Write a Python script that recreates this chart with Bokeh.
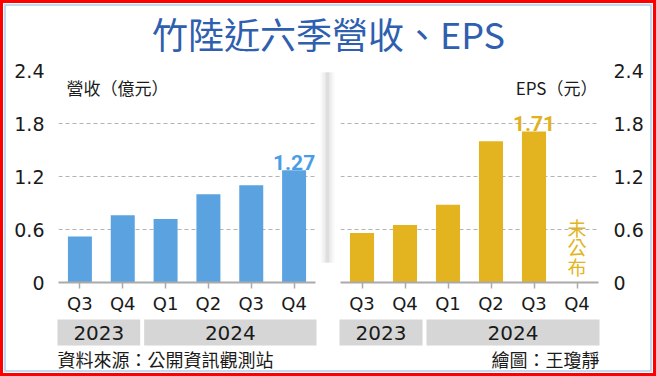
from bokeh.plotting import figure
from bokeh.layouts import column, row
from bokeh.models import Range1d, FixedTicker, CustomJSTickFormatter, Label
from bokeh.embed import file_html
from bokeh.resources import INLINE
from bokeh.core.properties import value

# ---------------- data ----------------
quarters = ["Q3", "Q4", "Q1", "Q2", "Q3", "Q4"]
years = ["2023", "2023", "2024", "2024", "2024", "2024"]
year_labels = ["2023", "2024"]
year_spans = [2, 4]                                # quarters in each year group
revenue = [0.52, 0.76, 0.72, 1.00, 1.10, 1.27]    # 營收(億元)
eps = [0.56, 0.65, 0.88, 1.60, 1.71]               # EPS(元); 2024 Q4 未公布
y_ticks = [0, 0.6, 1.2, 1.8, 2.4]

title_text = "竹陸近六季營收、EPS"
rev_unit = "營收（億元）"
eps_unit = "EPS（元）"
not_pub = "未公布"
source_text = "資料來源：公開資訊觀測站"
credit_text = "繪圖：王瓊靜"

# ---------------- style / layout (page px) ----------------
W, H = 656, 376
TOP_H = 58            # title band 0..58
MID_B = 316           # chart band 58..316, footer band 316..376
FT, FB = 70, 283      # frame top / bottom of both charts
L_X1 = 316            # left chart figure 0..316
L_F0, L_F1 = 58, 315  # left frame
M_X1 = 338            # gap strip 316..338
R_F0, R_F1 = 340, 598  # right frame (figure 338..656)

BLUE, BLUE_T = "#5ba3e0", "#4a9de4"
GOLD, GOLD_T = "#e3b420", "#e2b01a"
TITLE_C = "#2f5fae"
TXT = "#1a1a1a"
CJK = "Noto Sans CJK TC"
NUM = "DejaVu Sans"

xs = list(range(len(quarters)))           # category positions


def deco(x0, x1, y0, y1):
    """A plain transparent figure whose data coordinates are the page pixels it covers."""
    f = figure(width=x1 - x0, height=y1 - y0, x_range=Range1d(x0, x1),
               y_range=Range1d(y1, y0), x_axis_type=None, y_axis_type=None,
               toolbar_location=None, output_backend="svg", min_border=0)
    f.outline_line_color = None
    f.background_fill_color = None
    f.border_fill_color = None
    return f


def chart(x0, x1, f0, f1, vals, color, lab_color, unit, side):
    p = figure(width=x1 - x0, height=MID_B - TOP_H,
               x_range=Range1d(-0.5, len(quarters) - 0.5),
               y_range=Range1d(0, 2.4), y_axis_location=side,
               toolbar_location=None, output_backend="svg",
               min_border_left=f0 - x0, min_border_right=x1 - f1,
               min_border_top=FT - TOP_H, min_border_bottom=MID_B - FB)
    p.outline_line_color = None
    p.background_fill_color = None
    p.border_fill_color = None
    p.xgrid.visible = False
    p.ygrid.grid_line_color = "#b3b3b3"
    p.ygrid.grid_line_dash = "4 3"
    p.ygrid.grid_line_width = 1

    ya = p.yaxis[0]
    ya.ticker = FixedTicker(ticks=y_ticks)
    ya.formatter = CustomJSTickFormatter(code="return tick == 0 ? '0' : tick.toFixed(1);")
    ya.axis_line_color = None
    ya.major_tick_line_color = None
    ya.minor_tick_line_color = None
    ya.major_label_text_font = NUM
    ya.major_label_text_font_size = "19px"
    ya.major_label_text_color = TXT
    ya.major_label_standoff = 8 if side == "left" else 9

    xa = p.xaxis[0]
    xa.ticker = FixedTicker(ticks=xs)
    xa.major_label_overrides = {i: q for i, q in zip(xs, quarters)}
    xa.axis_line_color = "#aaaaaa"
    xa.axis_line_width = 2
    xa.major_tick_in = 0
    xa.major_tick_out = 6
    xa.minor_tick_line_color = None
    xa.major_tick_line_color = "#aaaaaa"
    xa.major_tick_line_width = 1.5
    xa.major_label_text_font = NUM
    xa.major_label_text_font_size = "18px"
    xa.major_label_text_color = TXT
    xa.major_label_standoff = 4

    n = len(vals)
    p.vbar(x=xs[:n], top=vals, width=0.56, fill_color=color, line_color=None)
    p.text(x=[xs[n - 1]], y=[vals[-1]], text=[f"{vals[-1]:.2f}"], y_offset=-8,
           text_font=value("Roboto"), text_font_style="bold", text_font_size="21px",
           text_color=lab_color, text_align="center", text_baseline="alphabetic")

    if side == "left":
        p.add_layout(Label(x=66 - f0, y=FB - 88, x_units="screen", y_units="screen",
                           text=unit, text_font=CJK, text_font_size="17px",
                           text_color=TXT, text_align="left", text_baseline="middle"))
    else:
        p.add_layout(Label(x=597 - f0, y=FB - 88, x_units="screen", y_units="screen",
                           text=unit, text_font=CJK, text_font_size="17px",
                           text_color=TXT, text_align="right", text_baseline="middle"))
    return p


# ---------------- title band ----------------
top = deco(0, W, 0, TOP_H)
top.add_layout(Label(x=328, y=32, text=title_text, text_font=CJK, text_font_size="36px",
                     text_color=TITLE_C, text_align="center", text_baseline="middle"))

# ---------------- chart band ----------------
left = chart(0, L_X1, L_F0, L_F1, revenue, BLUE, BLUE_T, rev_unit, "left")
right = chart(M_X1, W, R_F0, R_F1, eps, GOLD, GOLD_T, eps_unit, "right")
right.text(x=[xs[-1]] * 3, y=[0, 0, 0], text=list(not_pub), y_offset=[-55, -36, -16],
           text_font=value(CJK), text_font_size="19px", text_color=GOLD,
           text_align="center", text_baseline="middle")

gap = deco(L_X1, M_X1, TOP_H, MID_B)
for w, a in [(14, 0.025), (10, 0.03), (6, 0.035), (3, 0.04)]:
    gap.quad(left=[327 - w / 2], right=[327 + w / 2], top=[60], bottom=[292],
             fill_color="black", fill_alpha=a, line_color=None)

# ---------------- footer band ----------------
bot = deco(0, W, MID_B, H)
for f0, f1 in [(L_F0, L_F1), (R_F0, R_F1)]:
    slot = (f1 - f0) / len(quarters)
    start = 0
    for lab, n in zip(year_labels, year_spans):
        bl = f0 + start * slot - (1 if start == 0 else 0)
        br = f0 + (start + n) * slot - (4 if start + n < len(quarters) else -1)
        bot.quad(left=[bl], right=[br], top=[319], bottom=[345],
                 fill_color="#d6d6d6", line_color=None)
        bot.add_layout(Label(x=(bl + br) / 2, y=332, text=lab, text_font=NUM,
                             text_font_size="20px", text_color=TXT,
                             text_align="center", text_baseline="middle"))
        start += n
bot.add_layout(Label(x=57, y=358, text=source_text, text_font=CJK, text_font_size="18px",
                     text_color=TXT, text_align="left", text_baseline="middle"))
bot.add_layout(Label(x=599, y=358, text=credit_text, text_font=CJK, text_font_size="18px",
                     text_color=TXT, text_align="right", text_baseline="middle"))

page = column(top, row(left, gap, right), bot,
              styles={"background-color": "white",
                      "box-shadow": "inset 0 0 0 3px #ff0000, inset 0 0 0 4px #ffffff, "
                                    "inset 0 0 0 6px #bcdcf3"})
open("out.html", "w").write(file_html(page, INLINE))
